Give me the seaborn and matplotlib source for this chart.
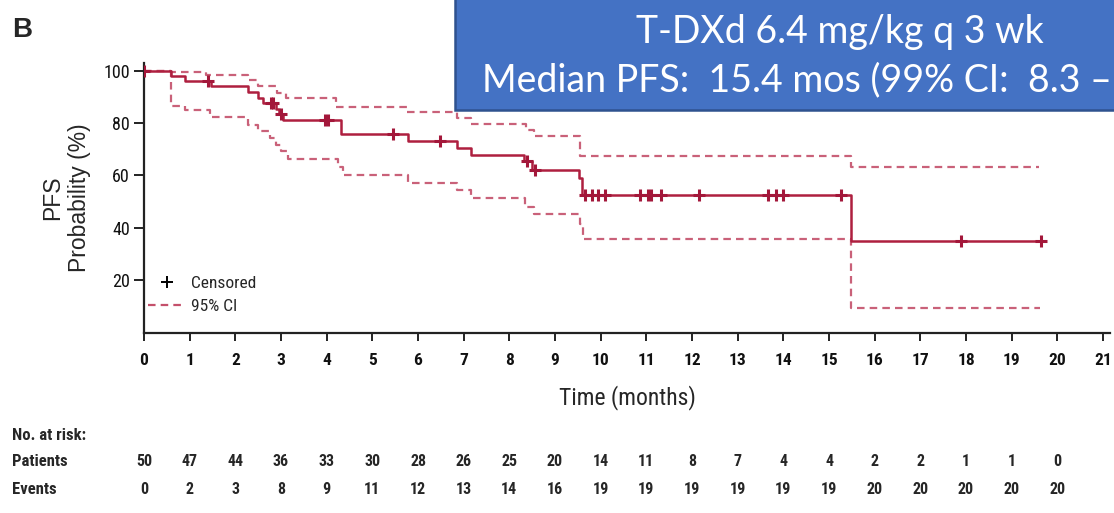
import numpy as np
import pandas as pd
import matplotlib
matplotlib.use("Agg")
import matplotlib.pyplot as plt
from matplotlib import font_manager as fm
from matplotlib.lines import Line2D
from matplotlib.patches import Rectangle
import seaborn as sns

# Kaplan-Meier estimate
km_time = [0, 0.6, 0.9, 1.47, 2.28, 2.5, 2.61, 2.88, 2.95, 3.05, 4.32, 5.78,
           6.85, 7.17, 8.33, 8.50, 9.52, 9.60, 15.48, 19.64]
km_surv = [100, 98.0, 96.0, 94.0, 91.7, 89.7, 87.7, 85.3, 83.3, 81.0, 75.8, 73.0,
           70.5, 67.9, 65.4, 62.2, 59.0, 52.6, 35.1, 35.1]

# censored observations
cens_time = [0, 1.41, 2.78, 2.83, 3.0, 3.96, 4.02, 5.46, 6.48, 8.38, 8.56,
             9.65, 9.80, 9.94, 10.09, 10.85, 11.04, 11.11, 11.33, 12.15,
             13.66, 13.84, 13.99, 15.27, 17.88, 19.64]

# 95% CI bounds
ci_hi_time = [0, 0.6, 1.35, 2.28, 2.5, 2.92, 3.1, 4.2, 5.75, 6.85, 7.17,
              8.37, 8.55, 9.55, 15.48, 19.6]
ci_hi = [100, 99.4, 98.2, 96.6, 94.3, 91.5, 89.6, 86.2, 84.1, 82.0, 79.8,
         77.5, 75.2, 67.3, 63.1, 63.1]
ci_lo_time = [0, 0.6, 0.9, 1.45, 2.28, 2.5, 2.75, 2.9, 3.0, 3.15, 4.25, 4.35,
              5.78, 6.85, 7.17, 8.35, 8.55, 9.55, 9.62, 15.48, 19.62]
ci_lo = [100, 86.6, 85.1, 82.3, 79.4, 76.8, 74.3, 71.7, 69.2, 66.3, 63.4, 60.3,
         57.3, 54.3, 51.4, 48.1, 45.2, 41.5, 35.7, 9.3, 9.3]

# number at risk table
risk_months = list(range(21))
patients = [50, 47, 44, 36, 33, 30, 28, 26, 25, 20, 14, 11, 8, 7, 4, 4, 2, 2, 1, 1, 0]
events = [0, 2, 3, 8, 9, 11, 12, 13, 14, 16, 19, 19, 19, 19, 19, 19, 20, 20, 20, 20, 20]

x_ticks = list(range(22))
y_ticks = [20, 40, 60, 80, 100]

RED = "#AE1F3F"
CI_RED = "#C4506B"
MARK = "#A3173A"

# pick a condensed face if one is installed, otherwise Roboto
names = {f.name for f in fm.fontManager.ttflist}
NARROW = None
for cand in ["Liberation Sans Narrow", "Arial Narrow", "Roboto Condensed",
             "Noto Sans Condensed", "DejaVu Sans Condensed", "Open Sans Condensed"]:
    if cand in names:
        NARROW = cand
        break
STRETCH = "normal"
if NARROW is None:
    cond = [f for f in fm.fontManager.ttflist
            if f.name == "Noto Sans" and str(f.stretch) in ("condensed", "semi-condensed")]
    if cond:
        NARROW, STRETCH = "Noto Sans", "condensed"
    else:
        NARROW = "Roboto"
NF = dict(family=[NARROW, "DejaVu Sans"], stretch=STRETCH)

sns.set_style("ticks")
plt.rcParams["font.family"] = ["Liberation Sans", "DejaVu Sans"]

W, H = 1114, 513
fig = plt.figure(figsize=(W / 100, H / 100), dpi=100)
x0, x_per = 144.0, 45.67
xmax = 21.15
y0_px, ytop_px = 332.6, 63.3
ymax = (y0_px - ytop_px) / 2.619
ax = fig.add_axes([x0 / W, 1 - y0_px / H, xmax * x_per / W, (y0_px - ytop_px) / H])

km = pd.DataFrame({"t": km_time, "s": km_surv})
hi = pd.DataFrame({"t": ci_hi_time, "s": ci_hi})
lo = pd.DataFrame({"t": ci_lo_time, "s": ci_lo})

for df in (hi, lo):
    sns.lineplot(data=df, x="t", y="s", ax=ax, color=CI_RED, lw=1.6,
                 linestyle=(0, (3.4, 2.3)), drawstyle="steps-post",
                 sort=False, estimator=None, alpha=0.9)
sns.lineplot(data=km, x="t", y="s", ax=ax, color=RED, lw=1.8,
             drawstyle="steps-post", sort=False, estimator=None)

# censor marks sit on the step curve
idx = np.searchsorted(km_time, cens_time, side="right") - 1
cens = pd.DataFrame({"t": cens_time, "s": np.array(km_surv)[idx]})
sns.scatterplot(data=cens, x="t", y="s", ax=ax, marker="+", s=85,
                color=MARK, linewidth=2.2, zorder=5)

ax.set_xlim(0, xmax)
ax.set_ylim(0, ymax)
ax.set_xticks(x_ticks)
ax.set_yticks(y_ticks)
ax.set_xticklabels([str(v) for v in x_ticks], fontsize=12.5, fontweight="bold", **NF)
ax.set_yticklabels([str(v) for v in y_ticks], fontsize=13, **NF)
ax.tick_params(axis="x", length=6, width=1.3, pad=9, colors="#111111")
ax.tick_params(axis="y", length=7, width=1.3, pad=3, colors="#111111")
for side in ("top", "right"):
    ax.spines[side].set_visible(False)
for side in ("left", "bottom"):
    ax.spines[side].set_linewidth(1.6)
    ax.spines[side].set_color("#222222")

ax.set_xlabel("Time (months)", fontsize=17, labelpad=12, **NF)
ax.set_ylabel("PFS\nProbability (%)", fontsize=16.5, labelpad=9, linespacing=1.2)

handles = [Line2D([], [], color="black", marker="+", ls="none", ms=8, mew=1.4),
           Line2D([], [], color=CI_RED, ls=(0, (3.4, 2.3)), lw=1.6)]
ax.legend(handles, ["Censored", "95% CI"], loc="lower left",
          bbox_to_anchor=(-0.012, 0.01), frameon=False, handlelength=2.2,
          handletextpad=0.3, labelspacing=0.45,
          prop=fm.FontProperties(size=12.5, **NF))

# risk table
tr = ax.get_xaxis_transform()
row_y = {"No. at risk:": 436, "Patients": 462, "Events": 490}
for label, py in row_y.items():
    fig.text(12 / W, 1 - py / H, label, fontsize=12, fontweight="bold",
             va="center", ha="left", **NF)
for vals, py in ((patients, 462), (events, 490)):
    yf = (y0_px - py) / (y0_px - ytop_px)
    for m, v in zip(risk_months, vals):
        ax.text(m, yf, str(v), transform=tr, fontsize=11.5, fontweight="bold",
                ha="center", va="center", clip_on=False, **NF)

fig.text(12 / W, 1 - 30 / H, "B", fontsize=20, fontweight="bold",
         va="center", ha="left")

# blue annotation box (runs off the top and right edge, as in the slide)
fig.patches.append(Rectangle((455 / W, 1 - 110 / H), 1.0, 1.0,
                             transform=fig.transFigure, facecolor="#4472C4",
                             edgecolor="#2F528F", lw=1.8, zorder=10))
BOX_FONT = ["Lato", "DejaVu Sans"]
fig.text(840 / W, 1 - 32 / H, "T-DXd 6.4 mg/kg q 3 wk", family=BOX_FONT,
         fontsize=27, color="white", ha="center", va="center", zorder=11)
fig.text(1112 / W, 1 - 80 / H, "Median PFS:  15.4 mos (99% CI:  8.3 \u2013",
         family=BOX_FONT, fontsize=27, color="white",
         ha="right", va="center", zorder=11)

fig.savefig("out.png", dpi=100)
